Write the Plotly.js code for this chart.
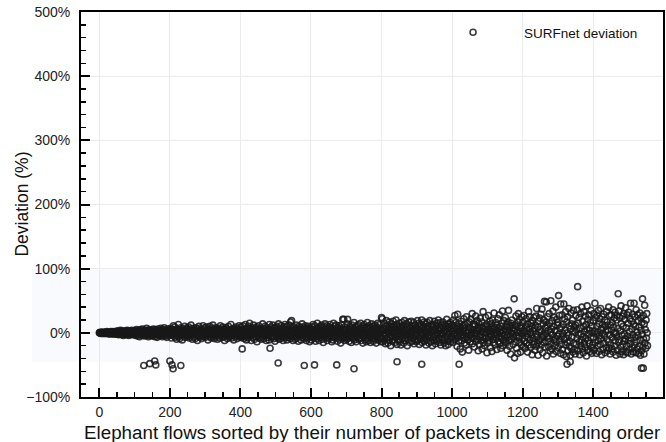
<!DOCTYPE html>
<html>
<head>
<meta charset="utf-8">
<script src="https://cdn.plot.ly/plotly-3.0.1.min.js"></script>
<style>
html,body{margin:0;padding:0;background:#fff;}
#chart{width:666px;height:442px;}
</style>
</head>
<body>
<div id="chart"></div>
<script>
// Deviation (%) per elephant flow, flows ranked by packet count (index = rank)
var dev0 = [
0,0,1,0,-1,0,1,1,0,-1, 0,-1,1,0,0,1,-1,-1,0,1, 0,2,-1,0,1,-1,0,0,-2,1, 1,0,-1,2,0,-1,1,-2,0,1, 2,-1,0,1,-2,0,2,1,-1,-2,
1,-2,3,0,-1,-3,2,1,-1,0, 4,-2,-1,1,3,-3,0,2,-4,1, -1,2,0,-2,3,1,-3,-1,2,4, 0,-2,1,-4,2,3,-1,0,-3,1, 2,-1,4,-2,0,1,-3,2,3,-1,
-2,3,1,-4,0,5,-1,2,-3,-5, 1,4,2,-1,-6,3,0,-2,5,1, -3,-1,6,2,-4,0,3,-2,1,-5, 4,-1,2,-3,7,0,-4,1,3,-6, 2,-2,5,-1,0,-3,4,1,-5,2,
3,-1,-4,6,1,-2,0,5,-6,2, -3,4,1,-1,-7,3,6,-2,0,2, -5,1,4,-3,7,-1,-4,2,0,-6, 5,3,-2,-1,8,-4,1,2,-5,0, 3,-7,6,-2,1,4,-3,0,-1,5
];
var dev200 = [
-4,2,7,-1,-8,3,0,5,-3,1, 11,-5,-2,4,9,-7,1,-1,3,-10, 6,2,-4,0,13,-6,3,-2,-9,5, 1,8,-3,-1,4,-11,2,6,-5,0, 3,-2,10,-7,1,5,-4,-1,7,2,
-6,4,0,9,-3,-8,2,1,-5,6, 12,-2,-4,3,-10,5,0,7,-1,-6, 2,4,-9,1,8,-3,-2,6,-12,3, 0,-5,10,2,-1,-7,4,1,6,-3, -9,5,0,-4,11,2,-6,3,-1,8,
-2,-7,4,1,9,-4,0,6,-11,3, 5,-1,-3,10,-6,2,1,-8,4,7, -2,-5,12,0,-3,6,-9,3,1,-1, 8,-6,2,5,-4,-10,3,0,7,-2, 4,-8,1,11,-5,2,-3,6,0,-7,
9,-1,3,-6,5,-12,1,4,-2,8, -4,0,6,-9,2,-3,10,1,-7,4, -1,5,-5,13,-2,-8,3,0,6,-4, 2,-11,7,1,-3,5,-6,9,0,-2, 4,-9,2,6,-1,-5,11,-3,1,-7
];
var dev400 = [
5,-3,9,-7,2,-25,0,11,-5,3, -9,6,1,-2,13,-6,4,-11,0,7, -3,2,-8,10,1,-5,15,-1,-4,6, 3,-12,8,-2,0,5,-7,12,-3,1, -10,4,7,-6,2,-1,9,-14,3,6,
-4,0,11,-8,2,5,-3,-1,7,-10, 4,1,-6,14,-2,3,-9,6,0,-5, 10,-3,2,-12,8,-1,4,-7,1,5, -2,-11,13,3,-24,6,-4,9,-8,0, 2,-6,12,-1,4,-9,7,1,-13,3,
8,-2,-5,10,0,-7,4,-1,14,-10, 3,6,-4,1,-9,11,-2,5,-6,0, 7,-12,2,9,-3,-1,13,-8,4,-5, 1,10,-11,3,-2,6,-7,0,12,-4, 5,-9,17,2,-3,19,-6,8,-1,-12,
4,-1,9,-6,2,-10,6,0,-4,12, -8,3,-2,7,-13,1,10,-5,4,-3, 0,8,-11,5,-1,14,-7,2,-4,9, -2,-9,6,1,11,-6,3,-12,0,7, -3,5,-8,10,-1,2,-14,6,4,-5
];
var dev600 = [
6,-11,2,9,-4,0,13,-8,3,-1, -6,11,4,-13,1,7,-3,-9,15,2, -5,8,-1,-12,5,3,-7,10,0,-4, 12,-2,-10,6,1,-15,9,-3,4,-6, 14,0,-8,3,-2,11,-12,5,7,-1,
-4,9,-9,2,13,-6,0,-2,8,-14, 4,6,-11,1,15,-5,3,-8,10,-1, -3,12,-7,5,0,-13,8,2,-5,11, -10,3,6,-1,-16,7,2,-4,13,-9, 21,1,-6,21,4,-12,9,-2,5,-7,
3,-10,14,-3,21,-8,0,6,-13,2, 10,-5,-1,8,-15,4,12,-6,1,-9, 7,-2,16,-11,3,-4,9,0,-14,5, -7,11,2,-3,13,-10,6,1,-8,4, -1,15,-12,3,8,-5,0,-16,10,2,
-6,13,-2,7,-11,4,1,-14,9,-3, 16,-8,5,0,-12,11,-4,2,8,-15, 3,-6,14,-1,-9,6,10,-13,2,-2, 7,-10,12,-5,1,-16,9,4,-7,15, -3,-11,6,2,-1,13,-8,5,-14,3
];
var dev800 = [
24,-9,22,3,-14,7,-2,15,-11,5, 0,-17,10,-4,19,-8,2,12,-16,6, -1,-12,17,4,-7,9,-20,1,14,-5, 8,-13,3,18,-10,-2,11,-15,6,0, -7,20,-4,13,-18,2,9,-11,5,-1,
15,-6,-14,10,3,-19,7,0,16,-9, 4,-3,12,-16,1,19,-8,6,-12,2, -5,14,-1,-20,9,5,-10,17,-3,0, 11,-15,7,-6,18,-2,3,-13,10,-8, 1,16,-17,5,-4,12,-11,8,0,-14,
6,-1,19,-12,3,-7,15,-18,9,2, -10,13,-4,0,20,-15,7,-2,11,-9, 4,17,-13,1,-6,14,-19,8,3,-11, 16,-5,0,10,-16,6,-3,19,-8,2, -14,12,5,-1,-20,9,13,-7,3,-12,
18,-4,7,-17,1,11,-10,15,-2,-13, 5,20,-8,3,-15,9,-1,16,-19,6, -6,12,0,-11,17,-3,8,-16,2,13, -9,4,-20,10,1,21,-13,-5,7,-18, 14,-2,9,-10,0,16,-14,6,-7,11
];
var dev1000 = [
-6,12,3,-15,20,-2,8,-11,27,0, -9,16,-4,5,-21,10,29,-7,2,-13, 14,-1,6,-25,9,-5,18,-12,1,-30, 11,4,-8,22,-3,-16,7,13,-10,2, -19,25,-6,0,15,-11,3,-27,9,17,
-4,-14,6,21,-8,1,-2,30,-17,10, 5,-9,14,-22,0,12,-5,26,-13,3, -1,19,-10,7,-28,4,15,-6,-18,9, 23,-3,-12,2,17,-25,8,-7,33,-15, 1,11,-20,6,-4,24,-9,0,13,-31,
10,-16,3,27,-7,5,-12,18,-1,-23, 8,14,-5,-29,2,20,-10,6,-15,31, -3,9,-19,0,16,-8,4,-26,12,-2, 22,-13,7,-6,28,-17,1,10,-24,5, -9,15,-1,34,-20,3,-11,19,-4,-14,
6,24,-8,-16,2,13,-27,9,-3,17, 35,-12,4,-21,11,-6,-33,15,0,-10, 20,-2,8,-18,3,-7,53,-39,12,5, -14,26,-4,-24,10,1,-32,16,30,-8, -5,21,-15,2,-30,11,7,-19,25,-1
];
var dev1200 = [
-9,17,-21,4,27,-13,2,-24,11,-5, 22,-16,8,-1,-30,14,-7,33,-19,6, 25,-11,0,-23,15,-3,10,-34,19,-8, 3,-18,24,-14,7,-27,12,-2,26,-21, 38,-6,-16,9,-35,18,1,-12,23,-26,
5,-10,29,-19,2,37,-7,-31,14,-4, 20,-15,49,-22,8,-1,17,48,-36,11, -6,25,-13,4,-22,30,-9,15,-28,1, 50,-17,6,-25,19,-3,34,-33,10,-11, 24,-20,3,-8,40,-14,-29,21,-5,12,
16,-23,58,-2,27,-12,7,-32,45,-18, 9,-6,28,-26,-1,13,-34,45,-10,22, 4,-19,33,-8,-37,17,0,-15,25,-28, -4,38,-21,11,-13,-35,6,31,-24,14, -7,20,-30,3,35,-16,9,-26,1,-33,
12,27,-18,5,-9,36,72,-28,15,-3, 24,-14,-34,8,30,-20,-2,-11,40,-25, 18,-6,-31,10,33,-16,2,-22,26,-9, 13,-36,6,42,-27,21,-12,-1,28,-17, 4,-29,16,-7,35,-23,-32,11,0,-19
];
var dev1400 = [
19,-8,30,-27,3,46,-15,24,-2,-32, 10,27,-20,1,-12,35,-29,14,-5,22, -18,38,-9,6,-34,25,-1,13,-26,8, 29,-16,-4,20,-31,11,2,-23,33,-10, 17,-28,5,-14,40,-24,27,-3,-33,12,
-19,28,4,-25,16,-7,36,-30,9,-1, 23,-21,32,-12,0,-35,20,-6,27,-27, 7,61,-15,34,-11,24,-33,3,-22,42, 14,-29,-4,26,-18,10,-34,30,-2,-13, 21,-9,39,-30,8,-20,28,-5,-31,15,
-12,32,-26,2,22,-17,46,-8,-33,18, 6,-23,29,-3,-30,13,46,-19,25,-7, 10,-31,36,-14,1,-25,28,-4,19,-32, 9,-21,31,-11,-35,23,4,-28,16,-2, 53,-22,27,-10,-33,14,43,-16,5,-24, 20,-8,30,0,-20
];
// Isolated flows well below the main band
var outlierFlow = [126,143,157,160,200,206,209,231,507,581,610,673,722,844,914,1020,1326,1335,1537,1542];
var outlierDev  = [-51,-48,-44,-50,-44,-50,-56,-51,-47,-51,-50,-50,-56,-45,-49,-49,-49,-45,-55,-55];

var seriesName = 'SURFnet deviation';
var xTitle = 'Elephant flows sorted by their number of packets in descending order';
var yTitle = 'Deviation (%)';

var devAll = [].concat(dev0, dev200, dev400, dev600, dev800, dev1000, dev1200, dev1400);
var flows = devAll.map(function (_, i) { return i; });
var xs = flows.concat(outlierFlow);
var ys = devAll.concat(outlierDev);

var font = 'Liberation Sans, Arial, Helvetica, sans-serif';

var trace = {
  type: 'scatter', mode: 'markers', name: seriesName,
  x: xs, y: ys,
  marker: { symbol: 'circle-open', size: 6, color: 'rgba(25,25,25,0.85)', line: { width: 1.6, color: 'rgba(25,25,25,0.85)' } },
  showlegend: true
};

var layout = {
  width: 666, height: 442,
  margin: { l: 81, r: 3, t: 12, b: 45 },
  paper_bgcolor: '#fff', plot_bgcolor: 'rgba(0,0,0,0)',
  font: { family: font, color: '#222', size: 14 },
  showlegend: true,
  legend: { x: 0.586, y: 0.987, xanchor: 'left', yanchor: 'top', bgcolor: 'rgba(0,0,0,0)', borderwidth: 0, itemwidth: 92, font: { size: 13.5, family: font, color: '#111' } },
  xaxis: {
    range: [-52, 1598], dtick: 200, tick0: 0,
    showgrid: true, gridcolor: '#ebebeb', gridwidth: 1, zeroline: false,
    showline: true, linecolor: '#000', linewidth: 2, mirror: true,
    ticks: 'inside', ticklen: 9, tickwidth: 2, tickcolor: '#000',
    minor: { dtick: 50, ticks: 'inside', ticklen: 5, tickwidth: 1.5, tickcolor: '#000', showgrid: false },
    tickfont: { size: 14, family: font, color: '#222' },
    ticklabelstandoff: 1
  },
  yaxis: {
    range: [-100, 500], dtick: 100, tick0: 0, ticksuffix: '%',
    showgrid: true, gridcolor: '#ebebeb', gridwidth: 1, zeroline: false,
    showline: true, linecolor: '#000', linewidth: 2, mirror: true,
    ticks: 'inside', ticklen: 9, tickwidth: 2, tickcolor: '#000',
    minor: { dtick: 20, ticks: 'inside', ticklen: 5, tickwidth: 1.5, tickcolor: '#000', showgrid: false },
    tickfont: { size: 14, family: font, color: '#222' },
    ticklabelstandoff: 6
  },
  annotations: [
    { text: xTitle, xref: 'paper', yref: 'paper', x: 0.5, y: -0.092, xanchor: 'center', yanchor: 'middle', showarrow: false, font: { size: 18.8, family: font, color: '#111' } },
    { text: yTitle, xref: 'paper', yref: 'paper', x: -0.103, y: 0.5, xanchor: 'center', yanchor: 'middle', textangle: -90, showarrow: false, font: { size: 17.5, family: font, color: '#111' } }
  ],
  shapes: [{
    type: 'rect', xref: 'paper', yref: 'paper', x0: -0.084, x1: 1, y0: 55 / 600, y1: 200 / 600,
    fillcolor: '#f8fafd', line: { width: 0 }, layer: 'below'
  }]
};

Plotly.newPlot('chart', [trace], layout, { displayModeBar: false, staticPlot: true });
</script>
</body>
</html>
